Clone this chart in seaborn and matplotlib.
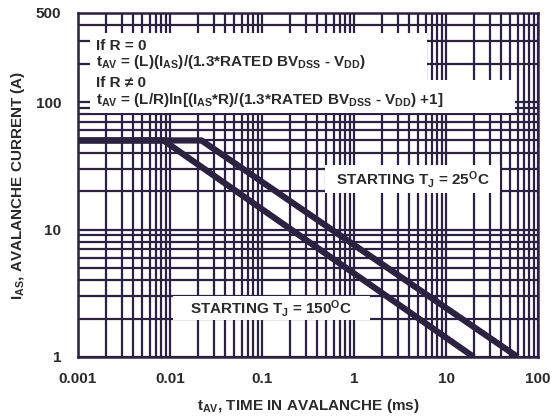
import numpy as np
import pandas as pd
import matplotlib
matplotlib.use("Agg")
import matplotlib.pyplot as plt
import matplotlib.ticker as mticker
from matplotlib.patches import Rectangle
import seaborn as sns

# datos
t_150 = [0.001, 0.0085, 20]
i_150 = [50, 50, 1]
t_25 = [0.001, 0.022, 60]
i_25 = [50, 50, 1]

x_ticks = [0.001, 0.01, 0.1, 1, 10, 100]
x_labels = ["0.001", "0.01", "0.1", "1", "10", "100"]
y_ticks = [1, 10, 100, 500]
y_labels = ["1", "10", "100", "500"]

ink = "#2b2140"
txt = "#2a2a2a"

sns.set_style("white")
plt.rcParams["font.family"] = ["Liberation Sans", "DejaVu Sans"]
plt.rcParams["font.weight"] = "bold"
plt.rcParams["mathtext.fontset"] = "custom"
plt.rcParams["mathtext.rm"] = "Liberation Sans:bold"
plt.rcParams["mathtext.it"] = "Liberation Sans:bold"
plt.rcParams["mathtext.bf"] = "Liberation Sans:bold"

fig = plt.figure(figsize=(5.55, 4.19), dpi=100)
ax = fig.add_axes([0.1405, 0.148, 0.829, 0.821])

df = pd.concat([
    pd.DataFrame({"t": t_150, "i": i_150, "Tj": "150"}),
    pd.DataFrame({"t": t_25, "i": i_25, "Tj": "25"}),
])
sns.lineplot(data=df, x="t", y="i", hue="Tj", palette=[ink, ink], sort=False,
             linewidth=4.5, legend=False, ax=ax, zorder=3)
for l in ax.lines:
    l.set_solid_capstyle("butt")

ax.set_xscale("log")
ax.set_yscale("log")
ax.set_xlim(0.001, 100)
ax.set_ylim(1, 500)

ax.xaxis.set_major_locator(mticker.FixedLocator(x_ticks))
ax.yaxis.set_major_locator(mticker.FixedLocator(y_ticks))
ax.xaxis.set_minor_locator(mticker.LogLocator(base=10, subs=np.arange(2, 10)))
ax.yaxis.set_minor_locator(mticker.LogLocator(base=10, subs=np.arange(2, 10)))
ax.xaxis.set_major_formatter(mticker.FixedFormatter(x_labels))
ax.yaxis.set_major_formatter(mticker.FixedFormatter(y_labels))
ax.xaxis.set_minor_formatter(mticker.NullFormatter())
ax.yaxis.set_minor_formatter(mticker.NullFormatter())
ax.tick_params(axis="x", which="both", length=0, labelsize=11, colors=txt, pad=11)
ax.tick_params(axis="y", which="both", length=0, labelsize=11, colors=txt, pad=12)

ax.set_axisbelow(True)
ax.grid(which="both", color=ink, linewidth=1.6)
for s in ax.spines.values():
    s.set_color(ink)
    s.set_linewidth(1.8)

ax.set_xlabel(r"t$_{AV}$, TIME IN AVALANCHE (ms)", fontsize=11, fontweight="bold", color=txt)
ax.set_ylabel(r"I$_{AS}$, AVALANCHE CURRENT (A)", fontsize=11, fontweight="bold", color=txt)
ax.xaxis.set_label_coords(0.5, -0.115)
ax.yaxis.set_label_coords(-0.11, 0.5)

# cajas blancas con texto
boxes = [(0.026, 0.805, 0.733, 0.137), (0.026, 0.709, 0.924, 0.096),
         (0.537, 0.477, 0.380, 0.081), (0.2065, 0.1076, 0.4285, 0.07)]
for x0, y0, w, h in boxes:
    ax.add_patch(Rectangle((x0, y0), w, h, transform=ax.transAxes,
                           facecolor="white", edgecolor="none", zorder=2))

fs = 11
ax.text(0.039, 0.905, "If R = 0", transform=ax.transAxes, fontsize=fs, color=txt, va="center", zorder=4)
ax.text(0.039, 0.857, r"t$_{AV}$ = (L)(I$_{AS}$)/(1.3*RATED BV$_{DSS}$ - V$_{DD}$)",
        transform=ax.transAxes, fontsize=fs, color=txt, va="center", zorder=4)
ax.text(0.039, 0.797, "If R \u2260 0", transform=ax.transAxes, fontsize=fs, color=txt, va="center", zorder=4)
ax.text(0.039, 0.747, r"t$_{AV}$ = (L/R)ln[(I$_{AS}$*R)/(1.3*RATED BV$_{DSS}$ - V$_{DD}$) +1]",
        transform=ax.transAxes, fontsize=fs, color=txt, va="center", zorder=4)
ax.text(0.727, 0.517, r"STARTING T$_{J}$ = 25$^{O}$C", transform=ax.transAxes,
        fontsize=fs, color=txt, ha="center", va="center", zorder=4)
ax.text(0.42, 0.142, r"STARTING T$_{J}$ = 150$^{O}$C", transform=ax.transAxes,
        fontsize=fs, color=txt, ha="center", va="center", zorder=4)

fig.savefig("out.png", dpi=100, facecolor="white")
